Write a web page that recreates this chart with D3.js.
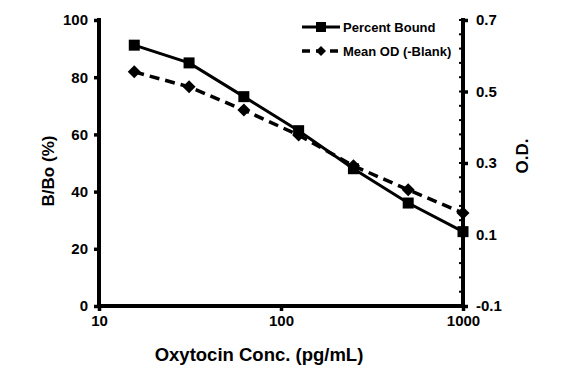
<!DOCTYPE html>
<html><head><meta charset="utf-8">
<script src="https://cdn.jsdelivr.net/npm/d3@7"></script>
<style>body{margin:0;background:#fff}svg{display:block}text{font-family:"Liberation Sans",Arial,sans-serif;font-weight:bold;fill:#000}</style>
</head><body>
<svg id="c" width="565" height="377"></svg>
<script>
const concentrations = [15.625, 31.25, 62.5, 125, 250, 500, 1000];
const percentBound = [91.2, 85, 73.2, 61.3, 48, 36, 26];
const meanOD = [0.555, 0.513, 0.448, 0.378, 0.292, 0.225, 0.160];
const xTicks = [10, 100, 1000];
const yLeftTicks = [0, 20, 40, 60, 80, 100];
const yRightTicks = [-0.1, 0.1, 0.3, 0.5, 0.7];
const seriesNames = ["Percent Bound", "Mean OD (-Blank)"];

const svg = d3.select("#c");
const L = 99, R = 463, T = 20, B = 306;
const x = d3.scaleLog().domain([10, 1000]).range([L, R]);
const yL = d3.scaleLinear().domain([0, 100]).range([B, T]);
const yR = d3.scaleLinear().domain([-0.1, 0.7]).range([B, T]);

const gR = svg.append("g").attr("transform", `translate(${R},0)`);
gR.call(d3.axisRight(yR).tickValues(yRightTicks).tickFormat(d => d.toFixed(1)).tickSize(5).tickPadding(8));
const minor = d3.range(-0.1, 0.7001, 0.04);
gR.selectAll(".minor").data(minor).join("line").attr("class","minor")
  .attr("x1",-4).attr("x2",0).attr("y1",d=>yR(d)).attr("y2",d=>yR(d)).style("stroke","#000").style("stroke-width","2px");

const gL = svg.append("g").attr("transform", `translate(${L},0)`);
gL.call(d3.axisLeft(yL).tickValues(yLeftTicks).tickSize(5).tickPadding(6));

const gX = svg.append("g").attr("transform", `translate(0,${B})`);
gX.call(d3.axisBottom(x).tickValues(xTicks).tickFormat(d3.format("d")).tickSize(5).tickPadding(4));

[gR, gL, gX].forEach(g => {
  g.select(".domain").remove();
  g.selectAll(".tick line").style("stroke","#000").style("stroke-width","3.5px");
  g.selectAll(".tick text").style("font-size","15px").style("fill","#000");
});
// thick axis bars
svg.append("rect").attr("x",L-2).attr("y",T-2).attr("width",4).attr("height",B-T+4).style("fill","#000");
svg.append("rect").attr("x",R-2).attr("y",T-2).attr("width",4).attr("height",B-T+4).style("fill","#000");
svg.append("rect").attr("x",L-2).attr("y",B-2).attr("width",R-L+4).attr("height",4).style("fill","#000");

const lineP = d3.line().x((d,i)=>x(concentrations[i])).y(d=>yL(d));
const lineO = d3.line().x((d,i)=>x(concentrations[i])).y(d=>yR(d));
svg.append("path").attr("d", lineO(meanOD)).style("fill","none").style("stroke","#000").style("stroke-width","3.5px").style("stroke-dasharray","10,6");
svg.append("path").attr("d", lineP(percentBound)).style("fill","none").style("stroke","#000").style("stroke-width","3px");

const sq = 11, dm = 6.5;
svg.selectAll(".sq").data(percentBound).join("rect").attr("class","sq")
  .attr("x",(d,i)=>x(concentrations[i])-sq/2).attr("y",d=>yL(d)-sq/2).attr("width",sq).attr("height",sq).style("fill","#000");
svg.selectAll(".dm").data(meanOD).join("path").attr("class","dm")
  .attr("d",(d,i)=>{const cx=x(concentrations[i]), cy=yR(d); return `M${cx},${cy-dm}L${cx+dm},${cy}L${cx},${cy+dm}L${cx-dm},${cy}Z`;}).style("fill","#000");

const lg = svg.append("g");
lg.append("line").attr("x1",302).attr("x2",340).attr("y1",27).attr("y2",27).style("stroke","#000").style("stroke-width","3px");
lg.append("rect").attr("x",321-5).attr("y",27-5).attr("width",10).attr("height",10).style("fill","#000");
lg.append("text").attr("x",343).attr("y",32).style("font-size","13px").text(seriesNames[0]);
lg.append("line").attr("x1",302).attr("x2",340).attr("y1",51).attr("y2",51).style("stroke","#000").style("stroke-width","3.5px").style("stroke-dasharray","8,6");
lg.append("path").attr("d",`M321,${51-5}L326,51L321,${51+5}L316,51Z`).style("fill","#000");
lg.append("text").attr("x",343).attr("y",56).style("font-size","13px").text(seriesNames[1]);

svg.append("text").attr("x",259).attr("y",361).attr("text-anchor","middle").style("font-size","18.5px").text("Oxytocin Conc. (pg/mL)");
svg.append("text").attr("transform","translate(54,171) rotate(-90)").attr("text-anchor","middle").style("font-size","17px").text("B/Bo (%)");
svg.append("text").attr("transform","translate(528,156) rotate(-90)").attr("text-anchor","middle").style("font-size","17px").text("O.D.");
</script>
</body></html>
